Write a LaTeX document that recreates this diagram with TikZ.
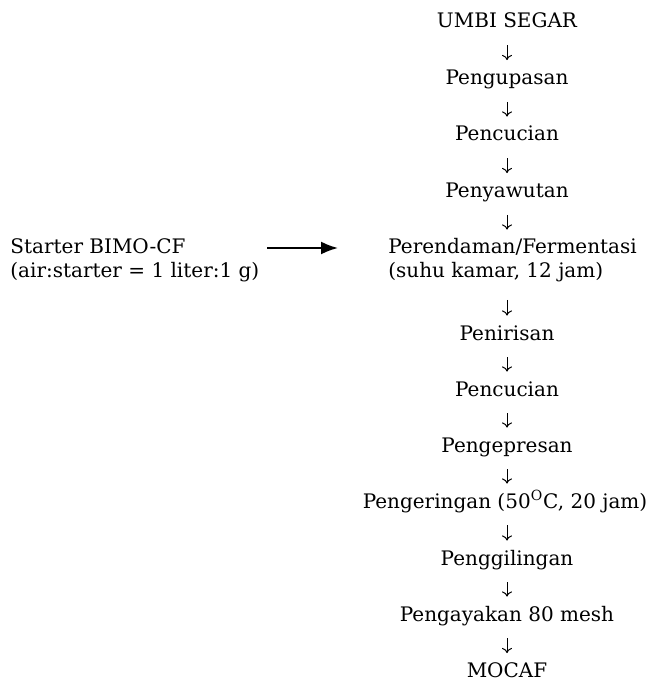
\documentclass[tikz,border=0pt]{standalone}
\usepackage{fontspec}
\setmainfont{DejaVu Serif}
\usetikzlibrary{arrows.meta}
\begin{document}
\begin{tikzpicture}[x=0.5pt,y=-0.5pt,
  lbl/.style={inner sep=0pt, anchor=base, text height=7.5pt, text depth=0pt, font=\fontsize{10}{12}\selectfont},
  lblw/.style={lbl, anchor=base west},
  down/.style={line width=0.5pt, -{To[length=2.6pt,width=5pt]}, shorten <=8.5pt, shorten >=4.5pt},
  bigarr/.style={line width=1pt, -{Latex[length=8.5pt,width=6.5pt]}}]
\useasboundingbox (0,0) rectangle (653,683);
\def\cx{507}
\node[lbl]  (umbi)  at (\cx,28)    {UMBI SEGAR};
\node[lbl]  (kupas) at (\cx,84.5)  {Pengupasan};
\node[lbl]  (cuci1) at (\cx,141)   {Pencucian};
\node[lbl]  (sawut) at (\cx,197.5) {Penyawutan};
\node[lblw] (rendam) at (388,254)  {Perendaman/Fermentasi};
\node[lblw] (suhu)  at (388,277.5) {(suhu kamar, 12 jam)};
\node[lbl]  (tiris) at (\cx,340)   {Penirisan};
\node[lbl]  (cuci2) at (\cx,396)   {Pencucian};
\node[lbl]  (press) at (\cx,452)   {Pengepresan};
\node[lbl]  (kering) at (505,508)  {Pengeringan (50\textsuperscript{O}C, 20 jam)};
\node[lbl]  (giling) at (\cx,565)  {Penggilingan};
\node[lbl]  (ayak)  at (\cx,621)   {Pengayakan 80 mesh};
\node[lbl]  (mocaf) at (\cx,677.5) {MOCAF};
\node[lblw] (starter) at (10,253.5) {Starter BIMO-CF};
\node[lblw] (airst) at (10,277.5) {(air:starter = 1 liter:1 g)};
\coordinate (sa) at (267,248);
\draw[down] (umbi.south) -- (kupas.north);
\draw[down] (kupas.south) -- (cuci1.north);
\draw[down] (cuci1.south) -- (sawut.north);
\draw[down] (sawut.south) -- (sawut.south |- rendam.north);
\draw[down, shorten <=11pt] (tiris.north |- suhu.south) -- (tiris.north);
\draw[down] (tiris.south) -- (cuci2.north);
\draw[down] (cuci2.south) -- (press.north);
\draw[down] (press.south) -- (press.south |- kering.north);
\draw[down] (giling.north |- kering.south) -- (giling.north);
\draw[down] (giling.south) -- (ayak.north);
\draw[down] (ayak.south) -- (mocaf.north);
\draw[bigarr, shorten >=25pt] (sa) -- (rendam.west |- sa);
\end{tikzpicture}
\end{document}
